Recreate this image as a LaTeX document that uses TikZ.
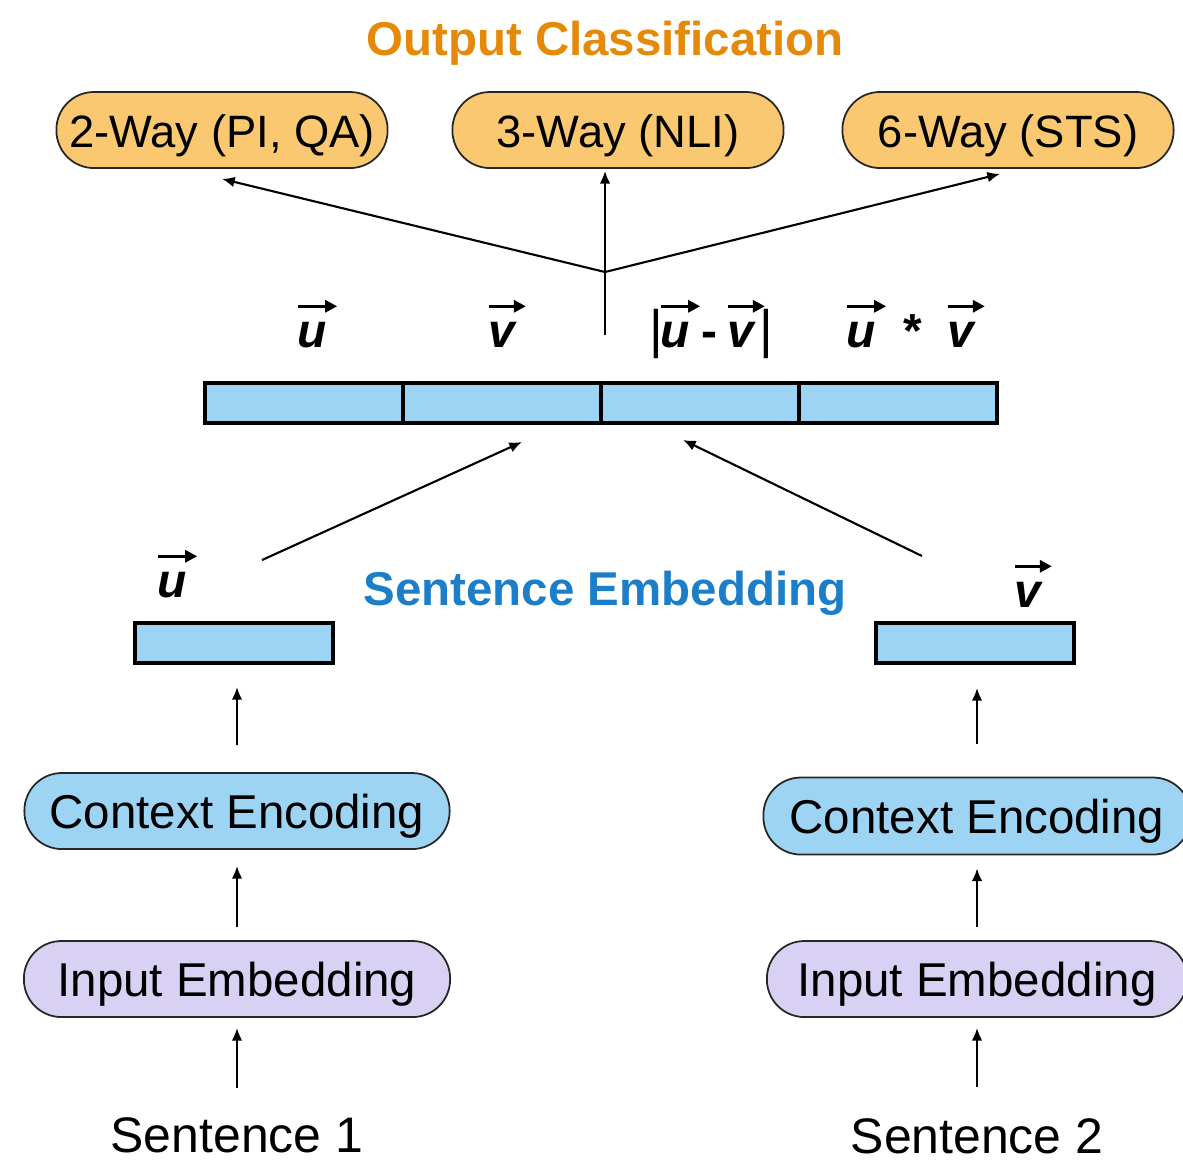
\documentclass[tikz,border=0pt]{standalone}
\usepackage{fontspec}
\setmainfont{Liberation Sans}
\usetikzlibrary{arrows.meta,calc}

\definecolor{outorange}{RGB}{228,138,8}
\definecolor{embtext}{RGB}{28,126,200}
\definecolor{wayfill}{RGB}{250,200,112}
\definecolor{embblue}{RGB}{158,212,243}
\definecolor{inpurple}{RGB}{217,209,243}

\tikzset{
  pill/.style={draw=black!85, line width=0.5pt, rounded corners=0.375cm, minimum height=0.76cm, inner sep=0pt,
    text height=10.3pt, text depth=0.6pt, font=\fontsize{13.5}{16}\selectfont},
  waybox/.style={pill, fill=wayfill, minimum width=3.31cm, font=\fontsize{12.9}{15}\selectfont},
  cell/.style={draw, line width=1.1pt, fill=embblue, minimum width=1.98cm, minimum height=0.40cm, inner sep=0pt},
  vlet/.style={inner sep=0pt, anchor=base, font=\bfseries\itshape\fontsize{13.6}{16}\selectfont},
  vsym/.style={inner sep=0pt, anchor=base, font=\bfseries\fontsize{13.6}{16}\selectfont},
  vbar/.style={inner sep=0pt, anchor=base, font=\fontsize{15}{18}\selectfont},
  vecarr/.style={-{Triangle[length=3.4pt,width=3.4pt]}, line width=0.9pt},
  heading/.style={inner sep=0pt, font=\bfseries\fontsize{13.5}{16}\selectfont},
  sent/.style={inner sep=0pt, font=\fontsize{14.2}{17}\selectfont},
  arr/.style={-{Latex[length=3.6pt,width=3pt]}, line width=0.6pt}
}

\begin{document}
\begin{tikzpicture}[x=0.01cm, y=-0.01cm]
    \useasboundingbox (0,0) rectangle (1183,1159);

    \node[heading, text=outorange] (oc) at (605,43) {Output Classification};
    \node[waybox] (tw) at (222,130) {2-Way (PI, QA)};
    \node[waybox] (th) at (618,130) {3-Way (NLI)};
    \node[waybox] (sx) at (1008,130) {6-Way (STS)};

    \coordinate (jn) at (605,272);
    \coordinate (vt) at (605,335);
    \draw[line width=0.6pt] (vt) -- (jn);
    \draw[arr] (jn) -- ($(tw.south)+(0,10)$);
    \draw[arr] (jn) -- ($(th.south)+(-13,2)$);
    \draw[arr] (jn) -- ($(sx.south)+(-8,5)$);

    % labels over the concatenated vector
    \node[vlet] (lu) at (312,347) {u};
    \node[vlet] (lv) at (502,347) {v};
    \node[vbar] (b1) at (656,347) {|};
    \node[vlet] (du) at (675,347) {u};
    \node[vsym] (dm) at (709,347) {-};
    \node[vlet] (dv) at (741,347) {v};
    \node[vbar] (b2) at (766,347) {|};
    \node[vlet] (pu) at (861,347) {u};
    \node[vsym] (ps) at (913,347) {*};
    \node[vlet] (pv) at (961,347) {v};

    \node[cell] (c1) at (304,403) {};
    \node[cell] (c2) at (502,403) {};
    \node[cell] (c3) at (700,403) {};
    \node[cell] (c4) at (898,403) {};

    \coordinate (us) at (262,560);
    \coordinate (vs) at (922,556);
    \draw[arr] (us) -- ($(c2.south)+(20,17)$);
    \draw[arr] (vs) -- ($(c3.south)+(-17,15)$);

    \node[heading, text=embtext] (se) at (605,593) {Sentence Embedding};

    \node[vlet] (su) at (172,597) {u};
    \node[vlet] (sv) at (1028,607) {v};
    \node[cell] (eu) at (234,643) {};
    \node[cell] (ev) at (975,643) {};

    \foreach \n in {lu,lv,du,dv,pu,pv,su,sv}
        \draw[vecarr] ([xshift=0.3pt,yshift=4.2pt]\n.north west) -- ([xshift=2.8pt,yshift=4.2pt]\n.north east);

    \node[pill, fill=embblue, minimum width=4.25cm] (ce1) at (237,811) {Context Encoding};
    \node[pill, fill=inpurple, minimum width=4.26cm] (ie1) at (237,979) {Input Embedding};
    \node[sent] (s1) at (237,1135) {Sentence 1};

    \node[pill, fill=embblue, minimum width=4.27cm, minimum height=0.77cm] (ce2) at (977,816) {Context Encoding};
    \node[pill, fill=inpurple, minimum width=4.2cm] (ie2) at (977,979) {Input Embedding};
    \node[sent] (s2) at (977,1136) {Sentence 2};

    \draw[arr, shorten <=0.27cm, shorten >=0.22cm] (ce1.north) -- (ce1.north |- eu.south);
    \draw[arr, shorten <=0.13cm, shorten >=0.16cm] (ie1.north) -- (ce1.south);
    \draw[arr, shorten <=0.29cm, shorten >=0.10cm] (s1.north) -- (ie1.south);

    \draw[arr, shorten <=0.33cm, shorten >=0.23cm] (ce2.north) -- (ce2.north |- ev.south);
    \draw[arr, shorten <=0.13cm, shorten >=0.13cm] (ie2.north) -- (ce2.south);
    \draw[arr, shorten <=0.31cm, shorten >=0.10cm] (s2.north) -- (ie2.south);

\end{tikzpicture}
\end{document}
